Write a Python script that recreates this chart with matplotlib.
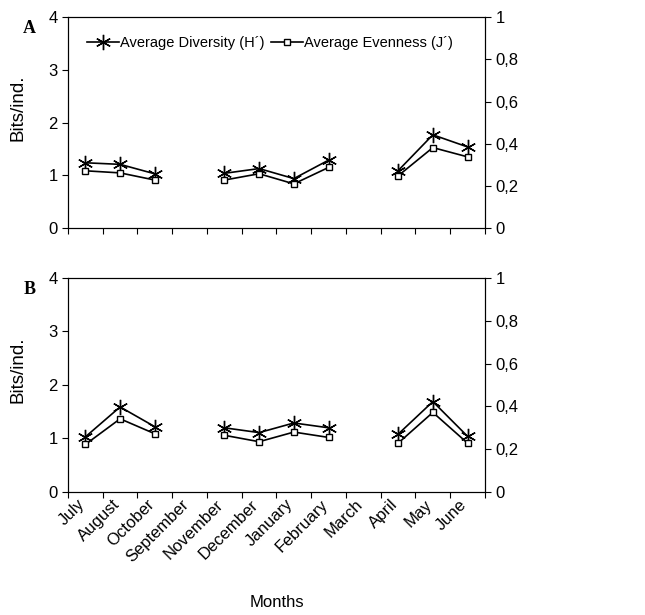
import matplotlib
matplotlib.use('Agg')
import matplotlib.pyplot as plt
import matplotlib.transforms as mtransforms
import numpy as np

plt.rc('font', family=['Liberation Sans', 'DejaVu Sans'], size=12)

months = ["July", "August", "October", "September", "November", "December",
          "January", "February", "March", "April", "May", "June"]

# diversity H' (bits/ind., left axis); nan = no sample
div_a = [1.24, 1.21, 1.03, np.nan, 1.04, 1.13, 0.94, 1.29, np.nan, 1.09, 1.77, 1.54]
div_b = [1.03, 1.59, 1.22, np.nan, 1.20, 1.11, 1.29, 1.20, np.nan, 1.08, 1.69, 1.04]
# evenness J' (right axis, 0-1)
even_a = [0.272, 0.262, 0.228, np.nan, 0.228, 0.258, 0.210, 0.288, np.nan, 0.248, 0.382, 0.338]
even_b = [0.222, 0.342, 0.272, np.nan, 0.265, 0.235, 0.280, 0.255, np.nan, 0.228, 0.372, 0.228]

fig = plt.figure(figsize=[6.45, 6.15], dpi=100)
x = np.arange(len(months)) + 0.5


def panel(rect, div, even, letter, show_x):
    ax = fig.add_axes(rect)
    ax2 = ax.twinx()
    l1, = ax.plot(x, div, '-', color='black', linewidth=1.2, marker=(6, 2, 0),
                  markersize=11, markeredgewidth=1.0, label="Average Diversity (H\u00b4)")
    l2, = ax2.plot(x, even, '-', color='black', linewidth=1.2, marker='s',
                   markersize=5, markerfacecolor='white', markeredgewidth=1.0,
                   label="Average Evenness (J\u00b4)")
    ax.set_xlim(0, 12)
    ax.set_ylim(0, 4)
    ax2.set_ylim(0, 1)
    ax.set_yticks([0, 1, 2, 3, 4])
    ax2.set_yticks([0, 0.2, 0.4, 0.6, 0.8, 1])
    ax2.set_yticklabels(["0", "0,2", "0,4", "0,6", "0,8", "1"])
    ax.set_xticks(np.arange(13))
    ax.set_xticklabels([])
    ax.set_xticks(x, minor=True)
    ax.tick_params(axis='x', which='minor', length=0)
    ax.tick_params(axis='both', which='major', direction='out', length=4, width=0.8)
    ax2.tick_params(axis='y', direction='out', length=4, width=0.8)
    if show_x:
        labels = ax.set_xticklabels(months, minor=True, rotation=45, ha='right',
                                    rotation_mode='anchor')
        shift = mtransforms.ScaledTranslation(-6 / 72, 0, fig.dpi_scale_trans)
        for lab in labels:
            lab.set_transform(lab.get_transform() + shift)
        ax.set_xlabel("Months", labelpad=22)
    ax.set_ylabel("Bits/ind.", fontsize=13.5)
    ax.yaxis.set_label_coords(-0.10, 0.57)
    fig.text(rect[0] - 0.06, rect[1] + rect[3] - 0.018, letter,
             family='Liberation Serif', fontweight='bold', fontsize=13,
             ha='center', va='center')
    return ax, l1, l2


axa, l1, l2 = panel([0.1054, 0.629, 0.6465, 0.343], div_a, even_a, "A", False)
axa.legend([l1, l2], [l1.get_label(), l2.get_label()], loc='upper left', ncol=2,
           frameon=False, handlelength=2.2, handletextpad=0.1, columnspacing=0.4,
           borderaxespad=0.9, fontsize=10.5)
panel([0.1054, 0.2, 0.6465, 0.348], div_b, even_b, "B", True)

plt.savefig("out.png", dpi=100)
